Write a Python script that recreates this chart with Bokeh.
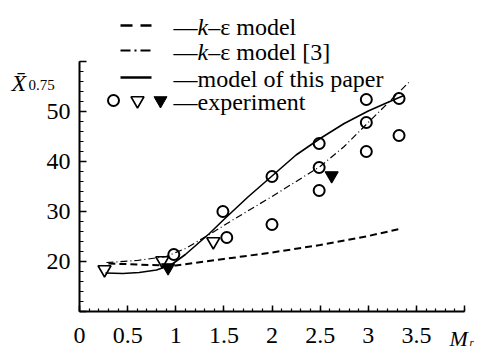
from bokeh.plotting import figure
from bokeh.models import Range1d, FixedTicker, Label, LinearAxis
from bokeh.embed import file_html
from bokeh.resources import INLINE

# ---------------- data ----------------
solid_x = [0.27, 0.45, 0.62, 0.8, 0.95, 1.1, 1.35, 1.5, 1.75, 2.0, 2.25, 2.5, 2.75, 3.0, 3.2, 3.37]
solid_y = [17.7, 17.6, 17.8, 18.3, 19.3, 21.4, 25.6, 28.4, 32.9, 37.1, 41.3, 44.6, 47.6, 50.1, 51.8, 53.2]

dashdot_x = [0.28, 0.6, 0.9, 1.1, 1.35, 1.6, 2.0, 2.5, 2.75, 3.0, 3.2, 3.42]
dashdot_y = [19.8, 20.2, 21.0, 22.6, 25.4, 28.4, 33.0, 39.0, 43.0, 47.8, 51.6, 55.8]

dashed_x = [0.3, 0.6, 0.9, 1.0, 1.5, 2.0, 2.5, 3.0, 3.35]
dashed_y = [19.6, 19.4, 19.2, 19.2, 20.5, 21.8, 23.3, 25.1, 26.6]

circle_x = [0.98, 1.49, 1.53, 2.0, 2.0, 2.49, 2.49, 2.49, 2.98, 2.98, 2.98, 3.32, 3.32]
circle_y = [21.4, 30.0, 24.8, 37.0, 27.4, 43.6, 38.8, 34.2, 52.4, 47.8, 42.0, 52.6, 45.2]

open_tri_x = [0.26, 0.86, 1.39]
open_tri_y = [18.4, 20.2, 24.0]

filled_tri_x = [0.92, 2.62]
filled_tri_y = [18.8, 37.2]

x_ticks = [0, 0.5, 1, 1.5, 2, 2.5, 3, 3.5, 4]
x_tick_labels = ["0", "0.5", "1", "1.5", "2", "2.5", "3", "3.5", ""]
y_ticks = [10, 20, 30, 40, 50, 60]
y_tick_labels = ["", "20", "30", "40", "50", ""]

legend_texts = ["k\u2013\u03b5 model", "k\u2013\u03b5 model [3]", "model of this paper", "experiment"]

# ---------------- layout ----------------
W, H = 479, 350
PX_X0, PX_X4 = 79, 464      # pixel columns of x = 0 and x = 4
PY_Y10, PY_Y60 = 311, 61    # pixel rows of y = 10 and y = 60
sxu = (PX_X4 - PX_X0) / 4.0
syu = (PY_Y10 - PY_Y60) / 50.0

def dx(px):
    return (px - PX_X0) / sxu

def dy(py):
    return 10 + (PY_Y10 - py) / syu

SERIF = "Liberation Serif"

p = figure(width=W, height=H, output_backend="svg", toolbar_location=None,
           x_range=Range1d(dx(0), dx(W)), y_range=Range1d(dy(H), dy(0)),
           x_axis_type=None, y_axis_type=None, min_border=0)
p.outline_line_color = None
p.background_fill_color = "white"
p.border_fill_color = "white"

xaxis = LinearAxis(ticker=FixedTicker(ticks=x_ticks, minor_ticks=[i / 10 for i in range(0, 41)]),
                   bounds=(0, 4), fixed_location=10)
xaxis.major_label_overrides = {t: l for t, l in zip(x_ticks, x_tick_labels)}
yaxis = LinearAxis(ticker=FixedTicker(ticks=y_ticks, minor_ticks=list(range(10, 61, 2))),
                   bounds=(10, 60), fixed_location=0)
yaxis.major_label_overrides = {t: l for t, l in zip(y_ticks, y_tick_labels)}
for ax, mj, mn in ((xaxis, 6, 3), (yaxis, 7, 4)):
    ax.axis_line_width = 2
    ax.axis_line_color = "black"
    ax.major_tick_in = mj
    ax.major_tick_out = 0
    ax.minor_tick_in = mn
    ax.minor_tick_out = 0
    ax.major_tick_line_width = 1.5
    ax.minor_tick_line_width = 1.2
    ax.major_tick_line_color = "black"
    ax.minor_tick_line_color = "black"
    ax.major_label_text_font = SERIF
    ax.major_label_text_font_size = "24px"
    ax.major_label_text_color = "black"
xaxis.major_label_standoff = 16
yaxis.major_label_standoff = 9
p.add_layout(xaxis, "below")
p.add_layout(yaxis, "left")

# ---------------- curves ----------------
p.line(dashed_x, dashed_y, line_color="black", line_width=2, line_dash="7 4")
p.line(dashdot_x, dashdot_y, line_color="black", line_width=1.2, line_dash="7 3 1 3")
p.line(solid_x, solid_y, line_color="black", line_width=1.6)

p.scatter(circle_x, circle_y, marker="circle", size=11, line_color="black",
          line_width=2, fill_alpha=0)
p.scatter(open_tri_x, open_tri_y, marker="inverted_triangle", size=13, line_color="black",
          line_width=1.6, fill_alpha=0)
p.scatter(filled_tri_x, filled_tri_y, marker="inverted_triangle", size=13, line_color="black",
          line_width=1.2, fill_color="black")

# ---------------- legend (drawn by hand) ----------------
row_y = [25, 50, 77, 100]
base_y = [26, 51, 78, 101]
p.line([dx(120), dx(151)], [dy(row_y[0])] * 2, line_color="black", line_width=2.5, line_dash="12 8")
p.line([dx(120), dx(151)], [dy(row_y[1])] * 2, line_color="black", line_width=2.2, line_dash="10 4 2 4")
p.line([dx(120), dx(151)], [dy(row_y[2])] * 2, line_color="black", line_width=2.5)
p.scatter([dx(113)], [dy(row_y[3])], marker="circle", size=11, line_color="black",
          line_width=2, fill_alpha=0)
p.scatter([dx(137)], [dy(row_y[3])], marker="inverted_triangle", size=13, line_color="black",
          line_width=1.6, fill_alpha=0)
p.scatter([dx(160)], [dy(row_y[3])], marker="inverted_triangle", size=13, line_color="black",
          fill_color="black")

def lab(px, py, txt, size="24px", italic=False):
    kwargs = dict(x=dx(px), y=dy(py), text=txt, text_font=SERIF,
                  text_font_size=size, text_color="black", text_baseline="alphabetic")
    if italic:
        kwargs["text_font_style"] = "italic"
    p.add_layout(Label(**kwargs))

x_txt = 173
kw = 24 * 0.444
for i in range(2):
    lab(x_txt, base_y[i], "\u2014")
    lab(x_txt + 24, base_y[i], "k", italic=True)
    lab(x_txt + 24 + kw, base_y[i], legend_texts[i][1:])
lab(x_txt, base_y[2], "\u2014" + legend_texts[2])
lab(x_txt, base_y[3], "\u2014" + legend_texts[3])

# axis titles
lab(11, 82, "X\u0304", size="24px", italic=True)
lab(28, 84, "0.75", size="15px")
lab(449, 338, "M", size="22px", italic=True)
lab(469, 341, "r", size="11px", italic=True)

open("out.html", "w").write(file_html(p, INLINE))
